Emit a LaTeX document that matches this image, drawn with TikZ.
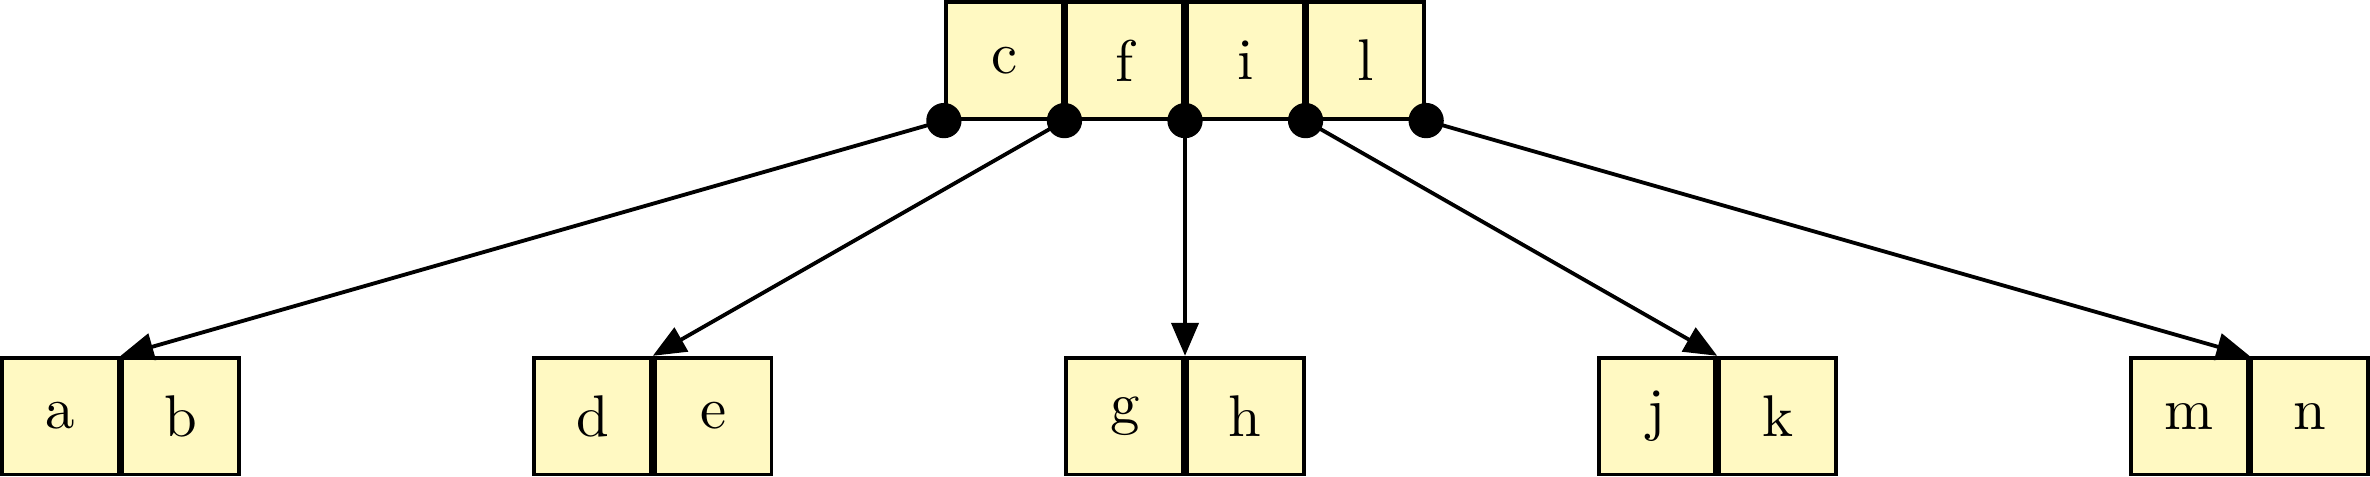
\documentclass[tikz,border=0pt]{standalone}
\usetikzlibrary{positioning,arrows.meta}
\definecolor{cellyellow}{RGB}{255,249,194}
\begin{document}
\begin{tikzpicture}[x=1pt,y=1pt,
  cell/.style={draw, line width=0.65pt, fill=cellyellow, minimum size=19.85pt, inner sep=0pt, font=\fontsize{10}{12}\selectfont},
  ptr/.style={line width=0.65pt, -{Triangle[length=5.6pt,width=4.6pt]}},
  dot/.style={fill=black}]
\useasboundingbox (0,0) rectangle (403,-81);
% top node
\node[cell, anchor=east] (f) at (201.5,-10.25) {f};
\node[cell, right=0pt of f] (i) {i};
\node[cell, left=0pt of f] (c) {c};
\node[cell, right=0pt of i] (l) {l};
% leaves
\node[cell, anchor=east] (a) at (20.5,-70.75) {a};
\node[cell, right=0pt of a] (b) {b};
\node[cell, anchor=east] (d) at (111,-70.75) {d};
\node[cell, right=0pt of d] (e) {e};
\node[cell, anchor=east] (g) at (201.5,-70.75) {g};
\node[cell, right=0pt of g] (h) {h};
\node[cell, anchor=east] (j) at (292,-70.75) {j};
\node[cell, right=0pt of j] (k) {k};
\node[cell, anchor=east] (m) at (382.5,-70.75) {m};
\node[cell, right=0pt of m] (n) {n};
% pointers
\draw[ptr] (c.south west) -- (a.north east);
\draw[ptr] (c.south east) -- (d.north east);
\draw[ptr] (f.south east) -- (g.north east);
\draw[ptr] (i.south east) -- (j.north east);
\draw[ptr] (l.south east) -- (m.north east);
\fill[dot] (c.south west) circle (3pt);
\fill[dot] (c.south east) circle (3pt);
\fill[dot] (f.south east) circle (3pt);
\fill[dot] (i.south east) circle (3pt);
\fill[dot] (l.south east) circle (3pt);
\end{tikzpicture}
\end{document}
